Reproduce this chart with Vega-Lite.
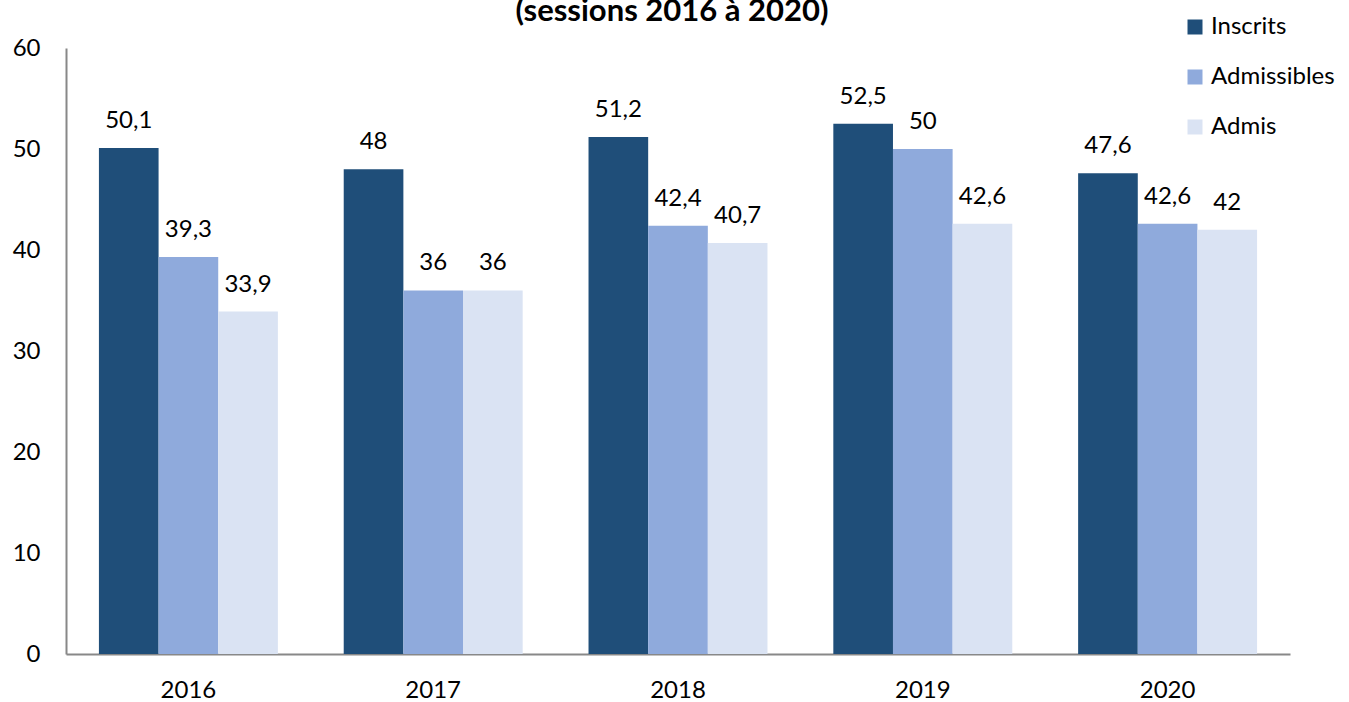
{
  "$schema": "https://vega.github.io/schema/vega-lite/v6.json",
  "width": 1224,
  "height": 606,
  "autosize": "none",
  "padding": {"left": 66, "top": 48, "right": 59, "bottom": 48},
  "background": "white",
  "config": {
    "view": {"stroke": null},
    "font": "Lato",
    "locale": {"number": {"decimal": ",", "thousands": " ", "grouping": [3], "currency": ["", " €"]}}
  },
  "title": {
    "text": "(sessions 2016 à 2020)",
    "font": "Lato",
    "fontSize": 31,
    "fontWeight": "bold",
    "color": "#000000",
    "anchor": "middle",
    "baseline": "alphabetic",
    "offset": -37,
    "dx": -6
  },
  "data": {
    "values": [
      {"annee": "2016", "serie": "Inscrits", "valeur": 50.1},
      {"annee": "2016", "serie": "Admissibles", "valeur": 39.3},
      {"annee": "2016", "serie": "Admis", "valeur": 33.9},
      {"annee": "2017", "serie": "Inscrits", "valeur": 48},
      {"annee": "2017", "serie": "Admissibles", "valeur": 36},
      {"annee": "2017", "serie": "Admis", "valeur": 36},
      {"annee": "2018", "serie": "Inscrits", "valeur": 51.2},
      {"annee": "2018", "serie": "Admissibles", "valeur": 42.4},
      {"annee": "2018", "serie": "Admis", "valeur": 40.7},
      {"annee": "2019", "serie": "Inscrits", "valeur": 52.5},
      {"annee": "2019", "serie": "Admissibles", "valeur": 50},
      {"annee": "2019", "serie": "Admis", "valeur": 42.6},
      {"annee": "2020", "serie": "Inscrits", "valeur": 47.6},
      {"annee": "2020", "serie": "Admissibles", "valeur": 42.6},
      {"annee": "2020", "serie": "Admis", "valeur": 42}
    ]
  },
  "encoding": {
    "x": {
      "field": "annee",
      "type": "nominal",
      "scale": {"paddingInner": 0.269, "paddingOuter": 0.1345},
      "axis": {
        "title": null,
        "labelAngle": 0,
        "labelFont": "Lato",
        "labelFontSize": 24,
        "labelColor": "#000000",
        "labelPadding": 24,
        "ticks": false,
        "tickSize": 0,
        "domainColor": "#888888",
        "domainWidth": 2
      }
    },
    "xOffset": {
      "field": "serie",
      "type": "nominal",
      "sort": ["Inscrits", "Admissibles", "Admis"],
      "scale": {"paddingInner": 0, "paddingOuter": 0}
    },
    "y": {
      "field": "valeur",
      "type": "quantitative",
      "scale": {"domain": [0, 60], "nice": false},
      "axis": {
        "title": null,
        "values": [0, 10, 20, 30, 40, 50, 60],
        "grid": false,
        "ticks": false,
        "tickSize": 0,
        "labelFont": "Lato",
        "labelFontSize": 24,
        "labelColor": "#000000",
        "labelPadding": 26,
        "domainColor": "#888888",
        "domainWidth": 2
      }
    }
  },
  "layer": [
    {
      "mark": {"type": "bar"},
      "encoding": {
        "color": {
          "field": "serie",
          "type": "nominal",
          "sort": ["Inscrits", "Admissibles", "Admis"],
          "scale": {
            "domain": ["Inscrits", "Admissibles", "Admis"],
            "range": ["#1F4E79", "#8FAADC", "#DAE3F3"]
          },
          "legend": {
            "title": null,
            "orient": "none",
            "legendX": 1117,
            "legendY": -33,
            "symbolType": "square",
            "symbolSize": 225,
            "symbolStrokeWidth": 0,
            "symbolOpacity": 1,
            "labelFont": "Lato",
            "labelFontSize": 24,
            "labelColor": "#000000",
            "labelOffset": 4,
            "rowPadding": 26
          }
        }
      }
    },
    {
      "mark": {"type": "text", "baseline": "alphabetic", "dy": -20, "font": "Lato", "fontSize": 24, "color": "#000000"},
      "encoding": {
        "text": {"field": "valeur", "type": "quantitative", "format": "~r"}
      }
    }
  ]
}
